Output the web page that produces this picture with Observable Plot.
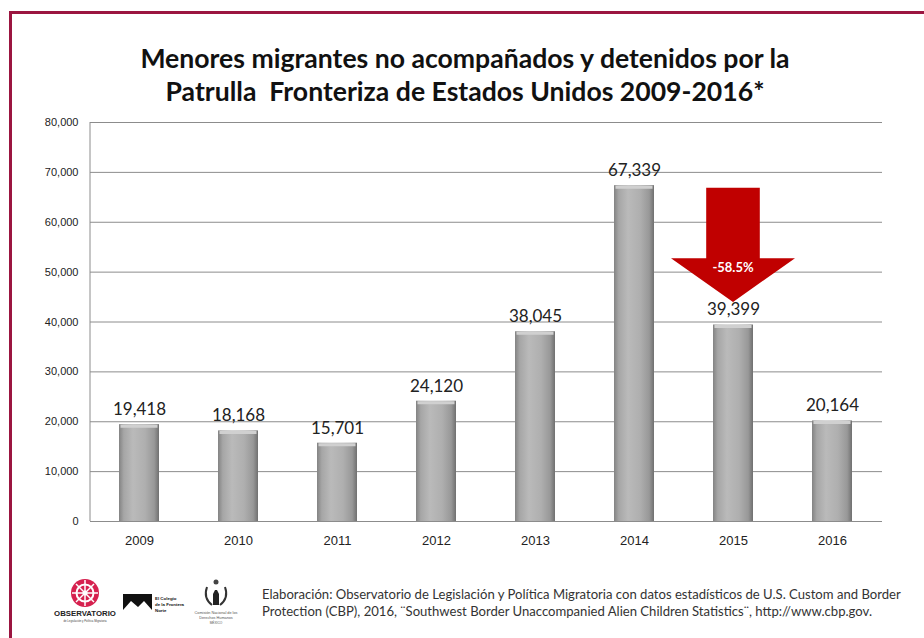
<!DOCTYPE html>
<html>
<head>
<meta charset="utf-8">
<script src="https://cdn.jsdelivr.net/npm/d3@7"></script>
<script src="https://cdn.jsdelivr.net/npm/@observablehq/plot@0.6"></script>
<style>
  html, body { margin: 0; padding: 0; background: #fff; }
  body { width: 924px; height: 638px; position: relative; overflow: hidden; font-family: Lato, "Open Sans", sans-serif; }
  #frame { position: absolute; left: 9px; top: 11px; width: 930px; height: 640px; border-left: 3px solid #9b1540; border-top: 3px solid #9b1540; }
  #title { position: absolute; left: 0; width: 930px; top: 42px; text-align: center; font-family: Lato, sans-serif; font-weight: 700; font-size: 26.6px; line-height: 33px; color: #111; }
  #chart { position: absolute; left: 0; top: 110px; }
  #caption { position: absolute; left: 262px; top: 586px; font-family: Lato, sans-serif; font-size: 13.1px; line-height: 17px; color: #333; white-space: nowrap; }
  #logos { position: absolute; left: 50px; top: 572px; }
</style>
</head>
<body>
<div id="frame"></div>
<div id="title">Menores migrantes no acompañados y detenidos por la<br>Patrulla&nbsp; Fronteriza de Estados Unidos 2009-2016*</div>
<div id="chart"></div>
<div id="logos">
<svg width="205" height="60" viewBox="0 0 205 60">
  <g transform="translate(35,21)">
    <circle r="14" fill="#d6214f"/>
    <circle r="8.5" fill="none" stroke="#fff" stroke-width="2"/>
    <circle r="2.5" fill="#fff"/>
    <g stroke="#fff" stroke-width="1.5">
      <line x1="0" y1="-13" x2="0" y2="13"/><line x1="-13" y1="0" x2="13" y2="0"/>
      <line x1="-9" y1="-9" x2="9" y2="9"/><line x1="-9" y1="9" x2="9" y2="-9"/>
    </g>
  </g>
  <text x="35" y="44" text-anchor="middle" font-family="Liberation Sans, Arial" font-weight="700" font-size="7.8" fill="#222">OBSERVATORIO</text>
  <text x="35" y="50" text-anchor="middle" font-family="Liberation Sans, Arial" font-size="2.8" fill="#444">de Legislación y Política Migratoria</text>
  <path d="M73,22 L102,22 L102,38 L94,29 L88,35 L81,29 L73,38 Z" fill="#111"/>
  <text x="105" y="28" font-family="Liberation Sans, Arial" font-weight="700" font-size="4.4" fill="#111">El Colegio</text>
  <text x="105" y="34" font-family="Liberation Sans, Arial" font-weight="700" font-size="4.4" fill="#111">de la Frontera</text>
  <text x="105" y="40" font-family="Liberation Sans, Arial" font-weight="700" font-size="4.4" fill="#111">Norte</text>
  <g transform="translate(166,22)">
    <path d="M-9,-7 Q-13,4 -4,11" fill="none" stroke="#333" stroke-width="2"/>
    <path d="M9,-7 Q13,4 4,11" fill="none" stroke="#333" stroke-width="2"/>
    <path d="M-3,11 L-3,0 L-1,-4 L1,-4 L3,0 L3,11 Z" fill="#222"/>
    <circle cy="-12" r="2.5" fill="#444"/>
  </g>
  <text x="166" y="42" text-anchor="middle" font-family="Liberation Sans, Arial" font-size="3.8" fill="#555">Comisión Nacional de los</text>
  <text x="166" y="47" text-anchor="middle" font-family="Liberation Sans, Arial" font-size="3.8" fill="#555">Derechos Humanos</text>
  <text x="166" y="52" text-anchor="middle" font-family="Liberation Sans, Arial" font-size="3.2" fill="#555">MÉXICO</text>
</svg>
</div>
<div id="caption">Elaboración: Observatorio de Legislación y Política Migratoria con datos estadísticos de U.S. Custom and Border<br>Protection (CBP), 2016, ¨Southwest Border Unaccompanied Alien Children Statistics¨, http://www.cbp.gov.</div>
<script>
// ---- data ----
const years = ["2009", "2010", "2011", "2012", "2013", "2014", "2015", "2016"];
const values = [19418, 18168, 15701, 24120, 38045, 67339, 39399, 20164];
const yTicks = [0, 10000, 20000, 30000, 40000, 50000, 60000, 70000, 80000];
const arrowYear = "2015";
const arrowTop = 66800;
const arrowShoulder = 52700;
const arrowTip = 43900;
const arrowLabel = "-58.5%";

const data = years.map((year, i) => ({year, value: values[i]}));
const fmt = d3.format(",");

function arrowMark(index, scales) {
  const x = scales.x, y = scales.y;
  const bw = x.bandwidth ? x.bandwidth() : 40;
  const cx = x(arrowYear) + bw / 2;
  const shaftHalf = bw * 0.67;
  const headHalf = bw * 1.55;
  const yTop = y(arrowTop), ySh = y(arrowShoulder), yTip = y(arrowTip);
  const g = d3.create("svg:g");
  g.append("path")
    .attr("d", `M${cx - shaftHalf},${yTop}L${cx + shaftHalf},${yTop}L${cx + shaftHalf},${ySh}L${cx + headHalf},${ySh}L${cx},${yTip}L${cx - headHalf},${ySh}L${cx - shaftHalf},${ySh}Z`)
    .attr("fill", "#c00000");
  g.append("text")
    .attr("x", cx).attr("y", ySh + 14)
    .attr("text-anchor", "middle")
    .attr("fill", "#fff")
    .attr("font-family", "Lato, sans-serif")
    .attr("font-weight", 700)
    .attr("font-size", 13)
    .text(arrowLabel);
  return g.node();
}

function leftAxisLine(index, scales, values, dimensions) {
  const {marginLeft, marginTop, height, marginBottom} = dimensions;
  const g = d3.create("svg:g");
  g.append("line")
    .attr("x1", marginLeft).attr("x2", marginLeft)
    .attr("y1", marginTop).attr("y2", height - marginBottom)
    .attr("stroke", "#8c8c8c");
  return g.node();
}

const plot = Plot.plot({
  width: 924,
  height: 450,
  marginLeft: 90,
  marginRight: 42,
  marginTop: 12,
  marginBottom: 39,
  style: {fontFamily: "Liberation Sans, Arial, sans-serif", fontSize: "11px", background: "transparent", color: "#222"},
  x: {domain: years, paddingInner: 0.595, paddingOuter: 0.2975, align: 0.5, label: null, tickSize: 0, tickPadding: 14},
  y: {domain: [0, 80000], ticks: yTicks, tickFormat: fmt, label: null, tickSize: 0, tickPadding: 12},
  marks: [
    Plot.gridY(yTicks, {stroke: "#8c8c8c", strokeOpacity: 1}),
    leftAxisLine,
    Plot.barY(data, {x: "year", y: "value", fill: "url(#barGrad)"}),
    Plot.tickY(data, {x: "year", y: "value", stroke: "#d0d0d0", strokeWidth: 3, dy: 1.5, insetLeft: 1.5, insetRight: 1.5}),
    Plot.text(data, {x: "year", y: "value", text: d => fmt(d.value), dy: -15, fontSize: 17, fill: "#222", fontFamily: "Lato, sans-serif"}),
    arrowMark
  ]
});

// gradients for the bars
const svg = d3.select(plot);
const defs = svg.insert("defs", ":first-child");
const g1 = defs.append("linearGradient").attr("id", "barGrad").attr("x1", 0).attr("x2", 1).attr("y1", 0).attr("y2", 0);
[[0, "#838383"], [0.12, "#a6a6a6"], [0.35, "#bababa"], [0.65, "#afafaf"], [0.88, "#989898"], [1, "#707070"]]
  .forEach(([o, c]) => g1.append("stop").attr("offset", o).attr("stop-color", c));

// larger x tick labels
svg.selectAll('g[aria-label^="x-axis"] text').attr("font-size", 13).style("font-size", "13px");

document.getElementById("chart").appendChild(plot);
</script>
</body>
</html>
